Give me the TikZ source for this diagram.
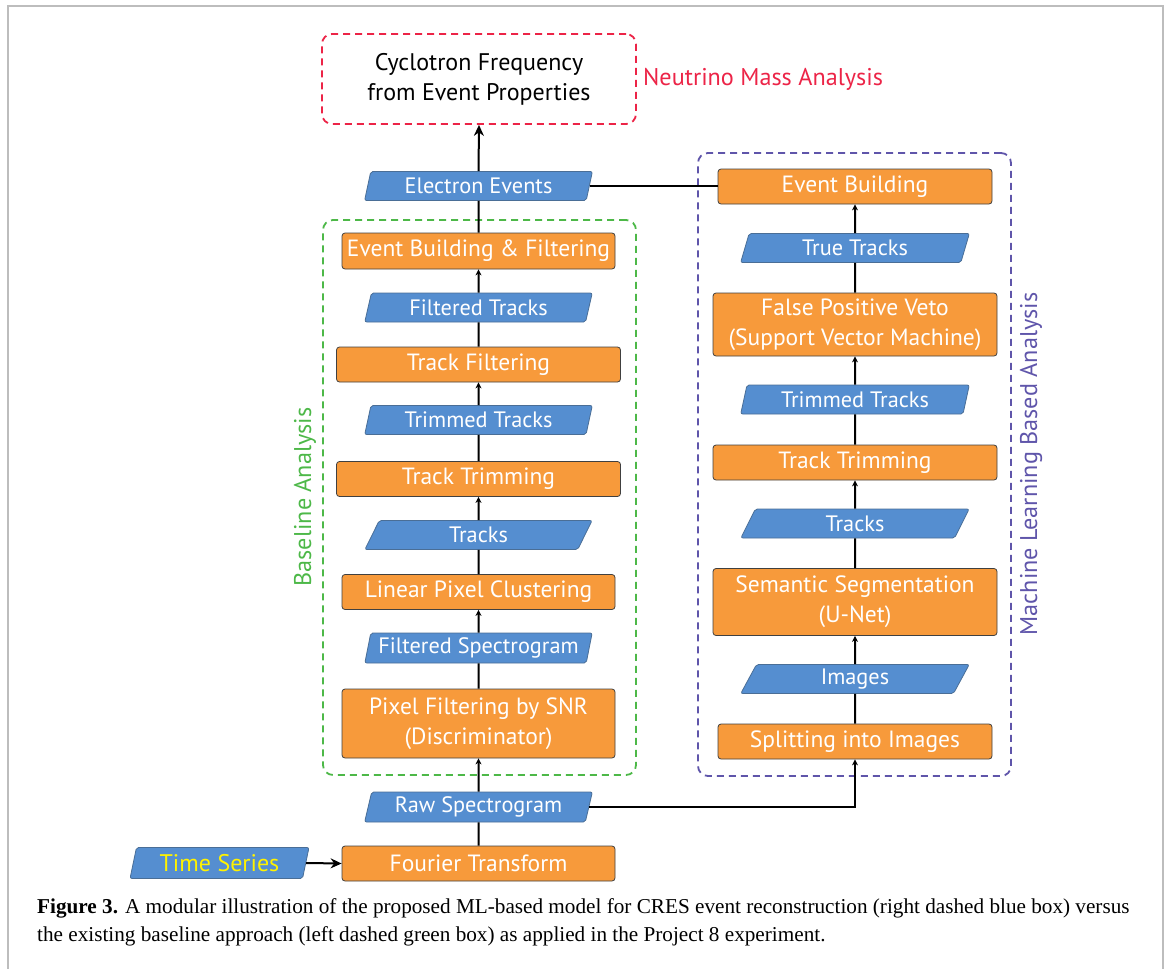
\documentclass[tikz,border=0pt]{standalone}
\usepackage{fontspec}
\setmainfont{Liberation Serif}
\newfontfamily\diag{PT Sans}
\usetikzlibrary{shapes.geometric,arrows.meta}
\definecolor{orangefill}{HTML}{F79A3B}
\definecolor{bluefill}{HTML}{558ED0}
\definecolor{bluedraw}{HTML}{4A6E96}
\definecolor{redc}{HTML}{EC2447}
\definecolor{greenc}{HTML}{4DB848}
\definecolor{purplec}{HTML}{5F55AA}
\definecolor{yellowc}{HTML}{FFF200}
\definecolor{framegray}{HTML}{BDBDBD}
\begin{document}
\begin{tikzpicture}[x=1pt,y=-1pt,
  proc/.style={draw=black!75, line width=0.8pt, fill=orangefill, rounded corners=3pt,
    text=white, font=\diag\fontsize{23.5}{30}\selectfont, align=center, inner sep=0pt},
  data/.style={trapezium, trapezium left angle=75, trapezium right angle=105,
    trapezium stretches=true, draw=bluedraw, line width=0.8pt, fill=bluefill,
    rounded corners=2pt, text=white, font=\diag\fontsize{22.3}{26}\selectfont, inner sep=0pt},
  groupbox/.style={line width=1.8pt, dash pattern=on 7pt off 5pt, rounded corners=10pt, inner sep=0pt},
  conn/.style={line width=2pt, black},
  arr/.style={conn, -{Stealth[length=6pt,width=6pt]}},
  bigarr/.style={conn, -{Stealth[length=11pt,width=10pt]}},
  lbl/.style={font=\diag\fontsize{24.2}{28}\selectfont, inner sep=0pt},
]
\useasboundingbox (0,0) rectangle (1171,969);
\draw[framegray, line width=1.6pt] (8,980) -- (8,6) -- (1163,6) -- (1163,980);

% top output
\node[groupbox, draw=redc, minimum width=314pt, minimum height=90pt, align=center,
  font=\diag\fontsize{24}{30}\selectfont] (cyc) at (479,79) {Cyclotron Frequency\\from Event Properties};
\node[lbl, text=redc, anchor=west] (nma) at (643,79) {Neutrino Mass Analysis};

% group boxes
\node[groupbox, draw=greenc, minimum width=313pt, minimum height=555pt] (basebox) at (479.5,497.5) {};
\node[lbl, text=greenc, rotate=90] (baselbl) at (305,497) {Baseline Analysis};
\node[groupbox, draw=purplec, minimum width=313pt, minimum height=623pt] (mlbox) at (854.5,464.5) {};
\node[lbl, text=purplec, rotate=90] (mllbl) at (1031,464) {Machine Learning Based Analysis};

% left column
\node[data, minimum width=228pt, minimum height=29pt] (ee) at (478.5,186) {Electron Events};
\node[proc, minimum width=273pt, minimum height=36pt] (ebf) at (478.5,251) {Event Building \& Filtering};
\node[data, minimum width=228pt, minimum height=29pt] (ftr) at (478.5,307.5) {Filtered Tracks};
\node[proc, minimum width=284pt, minimum height=35pt] (tf) at (478.5,364.5) {Track Filtering};
\node[data, minimum width=228pt, minimum height=29pt] (tt) at (478.5,420) {Trimmed Tracks};
\node[proc, minimum width=284pt, minimum height=35pt] (trim) at (478.5,479) {Track Trimming};
\node[data, minimum width=228pt, minimum height=29pt] (trk) at (478.5,535) {Tracks};
\node[proc, minimum width=273pt, minimum height=35pt] (lpc) at (478.5,592) {Linear Pixel Clustering};
\node[data, minimum width=228pt, minimum height=30pt] (fs) at (478.5,648) {Filtered Spectrogram};
\node[proc, minimum width=273pt, minimum height=69pt] (pf) at (478.5,723.5) {Pixel Filtering by SNR\\(Discriminator)};
\node[data, minimum width=228pt, minimum height=30pt] (raw) at (478.5,807) {Raw Spectrogram};
\node[proc, minimum width=273pt, minimum height=35pt] (ft) at (478.5,863.5) {Fourier Transform};
\node[data, minimum width=179pt, minimum height=31pt, text=yellowc,
  font=\diag\fontsize{24}{28}\selectfont] (ts) at (219.5,863) {Time Series};

% right column
\node[proc, minimum width=274pt, minimum height=35pt] (eb) at (855,186.5) {Event Building};
\node[data, minimum width=229pt, minimum height=29pt] (true) at (855,248) {True Tracks};
\node[proc, minimum width=284pt, minimum height=63pt] (fpv) at (855,324.5) {False Positive Veto\\(Support Vector Machine)};
\node[data, minimum width=229pt, minimum height=29pt] (rtt) at (855,399.5) {Trimmed Tracks};
\node[proc, minimum width=284pt, minimum height=35pt] (rtrim) at (855,462.5) {Track Trimming};
\node[data, minimum width=229pt, minimum height=29pt] (rtrk) at (855,523.5) {Tracks};
\node[proc, minimum width=284pt, minimum height=67pt] (seg) at (855,602) {Semantic Segmentation\\(U-Net)};
\node[data, minimum width=229pt, minimum height=29pt] (img) at (855,679) {Images};
\node[proc, minimum width=274pt, minimum height=35pt] (split) at (855,741.5) {Splitting into Images};

% connectors left
\draw[conn] (ft.north) -- (raw.south);
\draw[arr] (raw.north) -- (pf.south);
\draw[conn] (pf.north) -- (fs.south);
\draw[arr] (fs.north) -- (lpc.south);
\draw[conn] (lpc.north) -- (trk.south);
\draw[arr] (trk.north) -- (trim.south);
\draw[conn] (trim.north) -- (tt.south);
\draw[arr] (tt.north) -- (tf.south);
\draw[conn] (tf.north) -- (ftr.south);
\draw[arr] (ftr.north) -- (ebf.south);
\draw[conn] (ebf.north) -- (ee.south);
\draw[bigarr] (ee.north) -- (cyc.south);
\draw[bigarr] (ts.east) -- (ft.west);

% connectors right
\draw[arr] (raw.east) -| (split.south);
\draw[conn] (split.north) -- (img.south);
\draw[arr] (img.north) -- (seg.south);
\draw[conn] (seg.north) -- (rtrk.south);
\draw[arr] (rtrk.north) -- (rtrim.south);
\draw[conn] (rtrim.north) -- (rtt.south);
\draw[arr] (rtt.north) -- (fpv.south);
\draw[conn] (fpv.north) -- (true.south);
\draw[arr] (true.north) -- (eb.south);
\draw[conn] (ee.east) -- (ee.east -| eb.west);

% caption
\node[anchor=base west, inner sep=0pt, font=\fontsize{21.2}{28}\selectfont] (cap1) at (37,913)
  {\textbf{Figure 3.} A modular illustration of the proposed ML-based model for CRES event reconstruction (right dashed blue box) versus};
\node[anchor=base west, inner sep=0pt, font=\fontsize{21.2}{28}\selectfont] (cap2) at (37,941)
  {the existing baseline approach (left dashed green box) as applied in the Project 8 experiment.};
\end{tikzpicture}
\end{document}
